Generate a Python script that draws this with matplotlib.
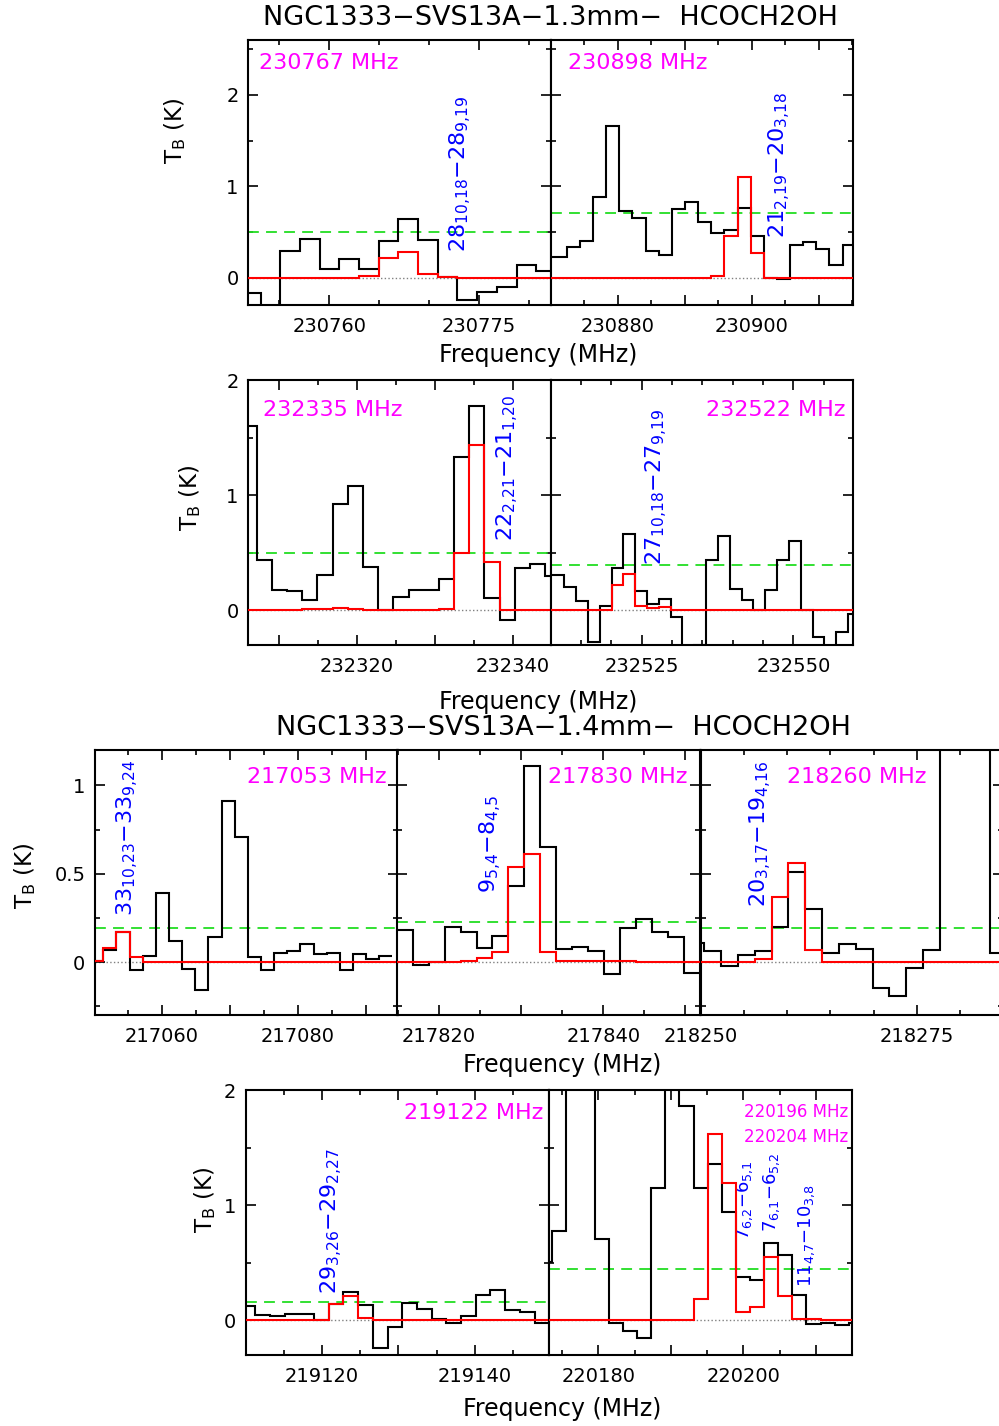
import numpy as np
import matplotlib
matplotlib.use("Agg")
import matplotlib.pyplot as plt
from matplotlib.ticker import MultipleLocator, FuncFormatter

plt.rcParams['font.family'] = ['DejaVu Sans']
plt.rcParams['mathtext.fontset'] = 'dejavusans'
plt.rcParams['mathtext.default'] = 'regular'

W, H = 999, 1426

# ---- 1.3mm band ----
# 230767 MHz
a_edge0, a_dnu = 230751.17, 1.97
a_black = [-0.17, -0.35, 0.29, 0.42, 0.09, 0.20, 0.09, 0.40, 0.64, 0.41, 0.01, -0.25, -0.16, -0.10, 0.14, 0.07]
a_red = [0, 0, 0, 0, 0, 0, 0.015, 0.21, 0.28, 0.04, 0.005, 0, 0, 0, 0, 0]
a_rms = 0.50

# 230898 MHz
b_edge0, b_dnu = 230868.47, 1.96
b_black = [0.23, 0.23, 0.33, 0.40, 0.88, 1.66, 0.73, 0.65, 0.29, 0.25, 0.75, 0.83, 0.61, 0.49,
           0.52, 0.76, 0.46, 0.0, -0.02, 0.36, 0.39, 0.31, 0.14, 0.36]
b_red = [0] * 13 + [0.015, 0.45, 1.10, 0.27] + [0] * 7
b_rms = 0.71

# 232335 MHz
c_edge0, c_dnu = 232305.23, 1.946
c_black = [1.60, 0.44, 0.18, 0.17, 0.09, 0.31, 0.92, 1.08, 0.38, 0.0, 0.12, 0.18, 0.18, 0.27,
           1.33, 1.77, 0.11, -0.08, 0.37, 0.40, 0.30]
c_red = [0, 0, 0, 0, 0.01, 0.01, 0.02, 0.01, 0, 0, 0, 0, 0, 0.01, 0.50, 1.44, 0.42, 0, 0, 0, 0]
c_rms = 0.50

# 232522 MHz
d_edge0, d_dnu = 232508.34, 1.948
d_black = [0.31, 0.31, 0.20, 0.08, -0.27, 0.04, 0.37, 0.66, 0.17, 0.06, 0.10, -0.06, -0.35, -0.30,
           0.44, 0.65, 0.19, 0.09, 0.0, 0.18, 0.44, 0.60, 0.0, -0.23, -0.32, -0.19, -0.03]
d_red = [0, 0, 0, 0, 0, 0.005, 0.22, 0.32, 0.04, 0.02, 0.03, 0.005] + [0] * 15
d_rms = 0.39

# ---- 1.4mm band ----
# 217053 MHz
e_edge0, e_dnu = 217049.48, 1.933
e_black = [0.006, 0.066, 0.17, -0.043, 0.032, 0.39, 0.12, -0.04, -0.16, 0.14, 0.91, 0.71, 0.03,
           -0.043, 0.05, 0.06, 0.10, 0.043, 0.05, -0.047, 0.047, 0.015, 0.032]
e_red = [0.006, 0.08, 0.17, 0.03] + [0] * 22
e_rms = 0.19

# 217830 MHz
f_edge0, f_dnu = 217814.81, 1.949
f_black = [0.18, -0.015, 0.0, 0.20, 0.17, 0.08, 0.145, 0.43, 1.11, 0.65, 0.075, 0.085, 0.062,
           -0.07, 0.19, 0.245, 0.17, 0.14, -0.06, -0.06]
f_red = [0, 0, 0, 0, 0.005, 0.025, 0.057, 0.54, 0.61, 0.057, 0.005, 0.005, 0.005, 0.005, 0.005,
         0, 0, 0, 0, 0]
f_rms = 0.226

# 218260 MHz
g_edge0, g_dnu = 218248.43, 1.95
g_black = [0.11, 0.06, -0.023, 0.038, 0.062, 0.20, 0.51, 0.30, 0.053, 0.10, 0.072, -0.147, -0.19,
           -0.034, 0.066, 1.6, 2.2, 1.7, 0.05, 0.05]
g_red = [0, 0, 0, 0, 0.019, 0.37, 0.56, 0.066] + [0] * 12
g_rms = 0.19

# 219122 MHz
h_edge0, h_dnu = 219109.38, 1.92
h_black = [0.125, 0.05, 0.04, 0.06, 0.06, 0.006, 0.14, 0.25, 0.13, -0.24, -0.06, 0.15, 0.10, 0.01,
           -0.02, 0.035, 0.22, 0.26, 0.09, 0.076, -0.02, -0.02]
h_red = [0, 0, 0, 0, 0, 0.005, 0.14, 0.21, 0.02] + [0] * 13
h_rms = 0.16

# 220196 / 220204 MHz
i_edge0, i_dnu = 220171.72, 1.945
i_black = [0.51, 0.78, 2.5, 2.4, 0.71, -0.02, -0.09, -0.15, 1.15, 2.3, 1.86, 1.15, 1.36, 0.94,
           0.38, 0.35, 0.67, 0.57, 0.22, -0.03, -0.026, -0.04, -0.02]
i_red = [0] * 10 + [0.006, 0.19, 1.62, 1.19, 0.07, 0.12, 0.55, 0.21, 0.015, 0.015, 0.006, 0, 0]
i_rms = 0.45

title_13 = "NGC1333\u2212SVS13A\u22121.3mm\u2212  HCOCH2OH"
title_14 = "NGC1333\u2212SVS13A\u22121.4mm\u2212  HCOCH2OH"

fig = plt.figure(figsize=(W / 100, H / 100), dpi=100)


def box(x0, x1, y0, y1):
    return [x0 / W, 1 - y1 / H, (x1 - x0) / W, (y1 - y0) / H]


def qn(up, ku, lo, kl):
    # transition label like 28_{10,18}-28_{9,19}, no math spacing
    ku = ku.replace(",", "{,}")
    kl = kl.replace(",", "{,}")
    return "$%s_{%s}{-}%s_{%s}$" % (up, ku, lo, kl)


def panel(rect, xlim, ylim, edge0, dnu, black, red, rms, xstep, xlabels, ymaj, ymin,
          ylabels, lines, tags, lsize=16):
    ax = fig.add_axes(rect)
    eb = edge0 + dnu * np.arange(len(black) + 1)
    er = edge0 + dnu * np.arange(len(red) + 1)
    ax.axhline(0, color='gray', ls=':', lw=1, zorder=1)
    ax.axhline(rms, color='#22dd22', ls=(0, (6, 4)), lw=1.3, zorder=2)
    ax.stairs(black, eb, baseline=None, color='black', lw=1.5, zorder=3)
    ax.stairs(red, er, baseline=None, color='red', lw=1.5, zorder=4)
    ax.set_xlim(*xlim)
    ax.set_ylim(*ylim)
    ax.xaxis.set_major_locator(MultipleLocator(xstep))
    ax.xaxis.set_minor_locator(MultipleLocator(5))
    ax.yaxis.set_major_locator(MultipleLocator(ymaj))
    ax.yaxis.set_minor_locator(MultipleLocator(ymin))
    ax.xaxis.set_major_formatter(FuncFormatter(
        lambda v, p: f"{v:.0f}" if int(round(v)) in xlabels else ""))
    if ylabels:
        ax.yaxis.set_major_formatter(FuncFormatter(lambda v, p: f"{v:g}" if v >= 0 else ""))
    else:
        ax.set_yticklabels([])
    ax.tick_params(which='both', direction='in', top=True, right=True, width=1.2, labelsize=14)
    ax.tick_params(which='major', length=7.5)
    ax.tick_params(which='minor', length=3.5)
    ax.tick_params(axis='x', pad=9)
    ax.tick_params(axis='y', pad=7)
    for s in ax.spines.values():
        s.set_linewidth(1.5)
    for txt, x, y in lines:
        ax.text(x, y, txt, color='blue', rotation=90, ha='center', va='bottom', fontsize=lsize)
    for txt, x, y, ha, fs in tags:
        ax.text(x, y, txt, color='#ff00ff', ha=ha, va='center', fontsize=fs, transform=ax.transAxes)
    return ax


# row 1
panel(box(248.3, 551, 40, 305), (230751.9, 230782.2), (-0.3, 2.6), a_edge0, a_dnu, a_black, a_red,
      a_rms, 15, {230760, 230775}, 1, 0.5, True,
      [(qn("28", "10,18", "28", "9,19"), 230773.2, 0.28)], [("230767 MHz", 0.035, 0.913, 'left', 16)])
panel(box(551, 853, 40, 305), (230870.04, 230915.1), (-0.3, 2.6), b_edge0, b_dnu, b_black, b_red,
      b_rms, 10, {230880, 230900}, 1, 0.5, False,
      [(qn("21", "2,19", "20", "3,18"), 230904.2, 0.43)], [("230898 MHz", 0.057, 0.913, 'left', 16)])

# row 2
panel(box(248.3, 551, 380, 645), (232306.1, 232344.9), (-0.3, 2.0), c_edge0, c_dnu, c_black, c_red,
      c_rms, 10, {232320, 232340}, 1, 0.5, True,
      [(qn("22", "2,21", "21", "1,20"), 232339.4, 0.60)], [("232335 MHz", 0.05, 0.887, 'left', 16)])
panel(box(551, 853, 380, 645), (232510.06, 232559.8), (-0.3, 2.0), d_edge0, d_dnu, d_black, d_red,
      d_rms, 25, {232525, 232550}, 1, 0.5, False,
      [(qn("27", "10,18", "27", "9,19"), 232527.5, 0.39)], [("232522 MHz", 0.974, 0.887, 'right', 16)])

# row 3
panel(box(95, 398.3, 750, 1015), (217050.2, 217094.8), (-0.3, 1.2), e_edge0, e_dnu, e_black, e_red,
      e_rms, 10, {217060, 217080}, 0.5, 0.25, True,
      [(qn("33", "10,23", "33", "9,24"), 217055.0, 0.26)], [("217053 MHz", 0.962, 0.899, 'right', 16)])
panel(box(397.3, 700, 750, 1015), (217814.9, 217851.8), (-0.3, 1.2), f_edge0, f_dnu, f_black, f_red,
      f_rms, 10, {217820, 217840}, 0.5, 0.25, False,
      [(qn("9", "5,4", "8", "4,5"), 217826.3, 0.39)], [("217830 MHz", 0.959, 0.899, 'right', 16)])
panel(box(701, 1003, 750, 1015), (218250, 218285), (-0.3, 1.2), g_edge0, g_dnu, g_black, g_red,
      g_rms, 25, {218250, 218275}, 0.5, 0.25, False,
      [(qn("20", "3,17", "19", "4,16"), 218257.0, 0.31)], [("218260 MHz", 0.284, 0.899, 'left', 16)])

# row 4
panel(box(246, 549.3, 1090, 1355), (219110.1, 219149.7), (-0.3, 2.0), h_edge0, h_dnu, h_black, h_red,
      h_rms, 10, {219120, 219140}, 1, 0.5, True,
      [(qn("29", "3,26", "29", "2,27"), 219121.3, 0.23)], [("219122 MHz", 0.980, 0.912, 'right', 16)])
panel(box(549, 852.3, 1090, 1355), (220173.2, 220215.0), (-0.3, 2.0), i_edge0, i_dnu, i_black, i_red,
      i_rms, 10, {220180, 220200}, 1, 0.5, False,
      [(qn("7", "6,2", "6", "5,1"), 220200.2, 0.70), (qn("7", "6,1", "6", "5,2"), 220203.9, 0.77),
       (qn("11", "4,7", "10", "3,8"), 220208.7, 0.29)],
      [("220196 MHz", 0.987, 0.918, 'right', 12), ("220204 MHz", 0.987, 0.824, 'right', 12)],
      lsize=13)


def ftext(x, y, s, **kw):
    fig.text(x / W, 1 - y / H, s, ha='center', va='center', **kw)


ftext(550, 18, title_13, fontsize=19.5)
ftext(563, 728, title_14, fontsize=19.5)
for x, y in [(538, 355), (538, 702), (562, 1065), (562, 1409)]:
    ftext(x, y, "Frequency (MHz)", fontsize=17)
for x, y in [(175, 131), (190, 498), (25, 876), (205, 1200)]:
    ftext(x, y, "$T_B$ (K)", fontsize=16.5, rotation=90)

fig.savefig("out.png", dpi=100)
